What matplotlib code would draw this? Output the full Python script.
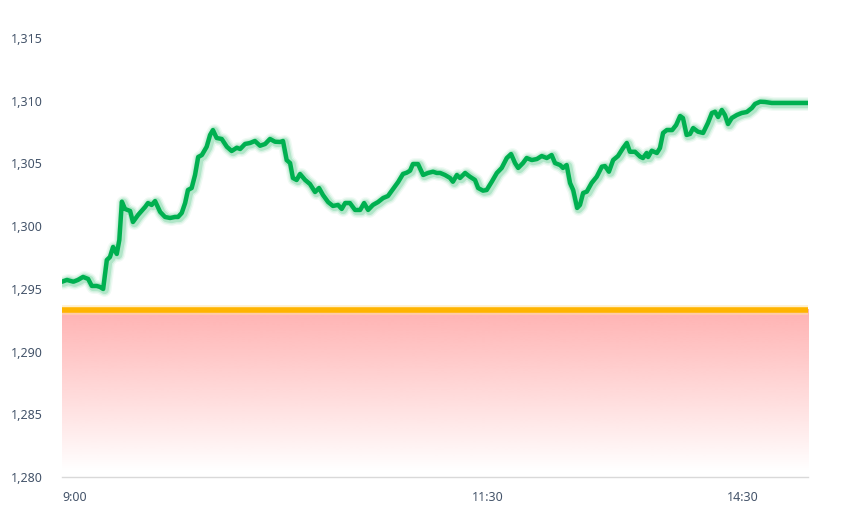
import numpy as np
import matplotlib.pyplot as plt
import matplotlib.patheffects as pe

# minutes of trading time since 9:00 (lunch break removed)
minutes = [
    0.0, 1.7, 4.0, 5.6, 7.4, 9.2, 10.5, 12.2, 13.4, 14.5,
    15.8, 16.9, 18.0, 19.3, 20.2, 21.1, 22.2, 24.0, 25.0, 26.8,
    29.3, 30.3, 31.6, 32.8, 34.6, 36.3, 38.1, 39.8, 40.9, 42.2,
    43.4, 44.4, 45.7, 46.9, 48.0, 49.3, 51.0, 52.2, 53.2, 54.5,
    56.3, 58.1, 59.8, 61.6, 62.8, 64.5, 66.3, 68.0, 69.8, 71.6,
    73.3, 75.1, 76.9, 77.9, 79.2, 80.4, 81.4, 82.7, 83.9, 85.7,
    87.4, 89.2, 90.6, 92.0, 93.8, 95.5, 97.3, 98.6, 99.8, 101.5,
    103.3, 105.1, 106.5, 107.9, 109.6, 111.4, 113.2, 114.9, 116.7, 118.5,
    120.2, 121.5, 122.7, 123.7, 125.5, 127.3, 129.0, 130.8, 132.1, 133.3,
    135.0, 136.8, 137.8, 139.2, 140.3, 142.1, 143.8, 145.6, 146.7, 148.4,
    149.7, 151.5, 153.3, 155.0, 156.8, 158.3, 159.7, 160.8, 162.5, 163.8,
    165.6, 167.4, 169.1, 170.9, 172.6, 173.8, 175.6, 176.6, 177.9, 179.1,
    180.2, 181.6, 182.6, 183.7, 185.0, 186.7, 188.5, 190.3, 191.4, 192.8,
    194.3, 196.0, 197.8, 199.1, 200.2, 202.0, 203.8, 204.8, 206.1, 206.6,
    207.9, 209.7, 210.8, 211.9, 213.2, 215.1, 216.5, 217.9, 218.9, 220.2,
    221.4, 222.5, 224.2, 226.0, 227.7, 229.1, 230.2, 231.3, 232.6, 233.7,
    234.8, 236.1, 237.9, 239.6, 241.4, 243.2, 244.3, 246.1, 247.8, 250.2,
    256.0, 263.0,
]
price = [
    1295.57, 1295.71, 1295.57, 1295.71, 1295.95, 1295.79, 1295.23, 1295.23, 1295.15, 1294.99,
    1297.30, 1297.54, 1298.34, 1297.78, 1298.90, 1301.95, 1301.37, 1301.21, 1300.33, 1300.89,
    1301.53, 1301.84, 1301.69, 1302.00, 1301.13, 1300.73, 1300.65, 1300.73, 1300.73, 1301.05,
    1301.84, 1302.88, 1303.04, 1304.08, 1305.51, 1305.67, 1306.33, 1307.27, 1307.66, 1307.03,
    1306.95, 1306.33, 1305.99, 1306.25, 1306.15, 1306.55, 1306.63, 1306.79, 1306.41, 1306.55,
    1306.95, 1306.73, 1306.71, 1306.79, 1305.27, 1305.03, 1303.84, 1303.68, 1304.16, 1303.68,
    1303.36, 1302.72, 1303.04, 1302.48, 1301.92, 1301.61, 1301.69, 1301.37, 1301.84, 1301.84,
    1301.29, 1301.29, 1301.84, 1301.29, 1301.69, 1301.92, 1302.24, 1302.40, 1302.96, 1303.52,
    1304.16, 1304.26, 1304.42, 1304.95, 1304.95, 1304.08, 1304.24, 1304.34, 1304.24, 1304.24,
    1304.08, 1303.84, 1303.54, 1304.08, 1303.84, 1304.24, 1303.94, 1303.68, 1303.04, 1302.83,
    1302.88, 1303.54, 1304.24, 1304.64, 1305.43, 1305.75, 1305.03, 1304.64, 1305.03, 1305.43,
    1305.27, 1305.35, 1305.59, 1305.43, 1305.67, 1305.03, 1304.87, 1304.64, 1304.87, 1303.44,
    1302.88, 1301.45, 1301.69, 1302.64, 1302.75, 1303.44, 1303.94, 1304.74, 1304.79, 1304.34,
    1305.27, 1305.59, 1306.23, 1306.63, 1305.93, 1305.93, 1305.54, 1305.43, 1305.83, 1305.51,
    1306.01, 1305.83, 1306.23, 1307.43, 1307.66, 1307.66, 1308.06, 1308.78, 1308.62, 1307.27,
    1307.35, 1307.82, 1307.53, 1307.43, 1308.22, 1309.02, 1309.12, 1308.70, 1309.26, 1308.86,
    1308.14, 1308.62, 1308.86, 1309.02, 1309.10, 1309.42, 1309.74, 1309.92, 1309.90, 1309.82,
    1309.82, 1309.82,
]
prev_close = 1293.35
y_ticks = [1280, 1285, 1290, 1295, 1300, 1305, 1310, 1315]
x_ticks = [0, 150, 240]
x_labels = ["9:00", "11:30", "14:30"]

fig = plt.figure(figsize=(8.44, 5.09), dpi=100)
ax = fig.add_axes([0.0735, 0.0629, 0.8839, 0.8624])
ax.set_xlim(0, 263)
ax.set_ylim(1280, 1315)

# red gradient under the previous close line
grad = np.linspace(1, 0, 256).reshape(-1, 1)
top = np.array([255, 178, 178]) / 255
img = np.ones((256, 1, 4))
img[..., :3] = top
img[..., 3] = grad ** 1.0
ax.imshow(img, extent=[0, 263, 1280.5, prev_close], aspect="auto",
          origin="upper", zorder=1, interpolation="bilinear")

ax.axhline(prev_close, color="#FFB400", lw=4, zorder=2,
           path_effects=[pe.Stroke(linewidth=7, foreground="#FFE3A0", alpha=0.5), pe.Normal()])

# glow around the price line
for lw, a in [(10, 0.06), (8, 0.10), (6, 0.18)]:
    ax.plot(np.array(minutes) + 0.5, np.array(price) - 0.08, color="#00B050",
            lw=lw, alpha=a, solid_capstyle="round", solid_joinstyle="round", zorder=3)
ax.plot(minutes, price, color="#00B050", lw=3.2, solid_capstyle="round",
        solid_joinstyle="round", zorder=4)

for s in ["top", "right", "left"]:
    ax.spines[s].set_visible(False)
ax.spines["bottom"].set_color("#d9d9d9")
ax.spines["bottom"].set_linewidth(1)

ax.set_yticks(y_ticks)
ax.set_yticklabels([f"{v:,}" for v in y_ticks])
ax.set_xticks(x_ticks)
ax.set_xticklabels(x_labels)
ax.tick_params(axis="both", length=0, labelsize=9, labelcolor="#44546A")
ax.tick_params(axis="y", pad=14)
ax.tick_params(axis="x", pad=10)
for lab in ax.get_yticklabels() + ax.get_xticklabels():
    lab.set_fontfamily("Noto Sans")
ax.get_xticklabels()[0].set_ha("left")

fig.savefig("out.png", dpi=100)
